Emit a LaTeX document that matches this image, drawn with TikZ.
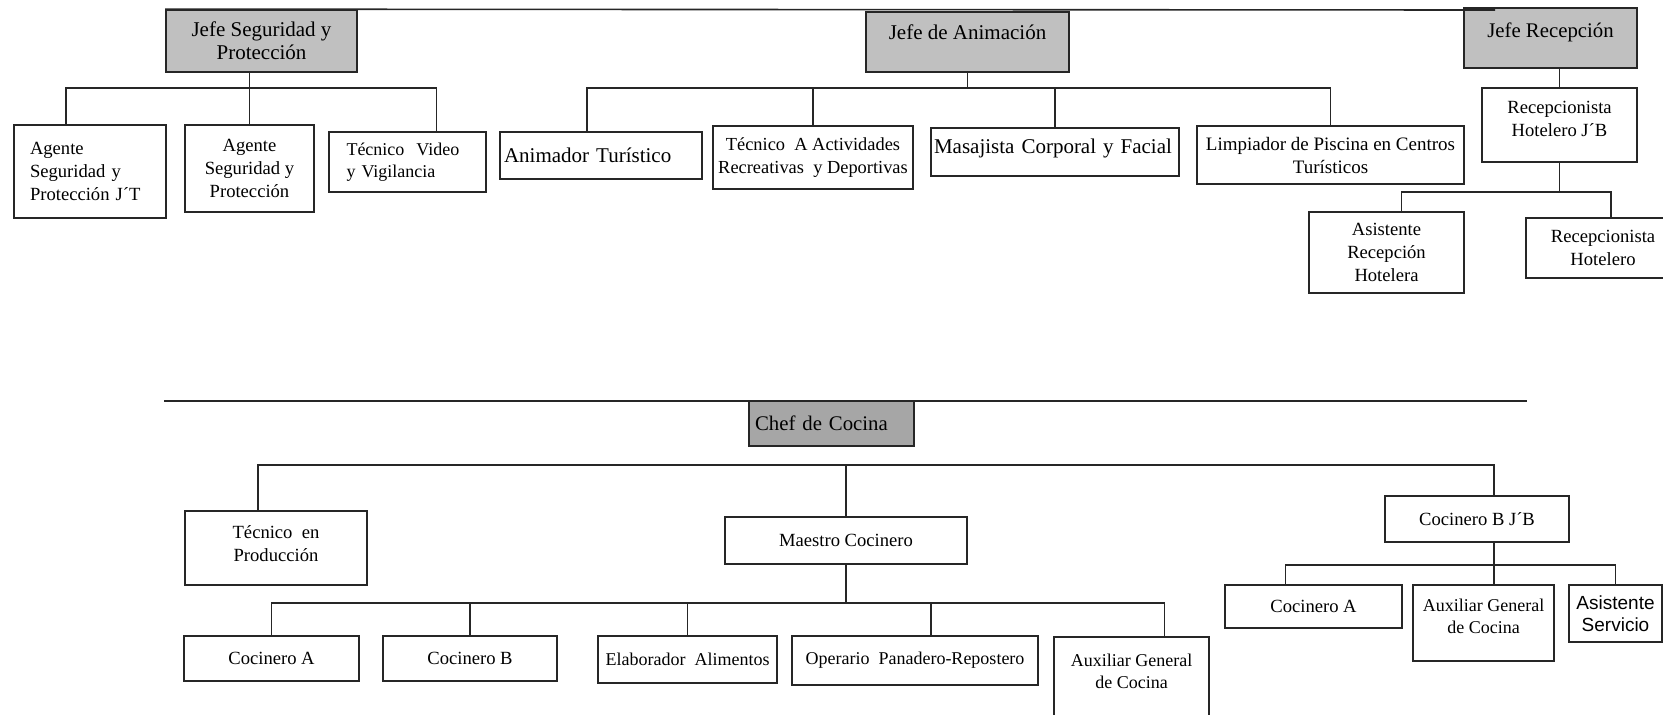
\documentclass[tikz,border=0pt]{standalone}
\usepackage{fontspec}
\setmainfont{Liberation Serif}
\newfontfamily\sansf{Liberation Sans}
\usetikzlibrary{calc}
\definecolor{hdgray}{HTML}{C0C0C0}
\definecolor{chefgray}{HTML}{A6A6A6}
\definecolor{ink}{HTML}{262626}
\newcommand{\mylift}[1]{\rule[-#1]{0pt}{#1}}
\tikzset{
  box/.style={draw=ink, line width=0.85pt, fill=white, inner sep=0pt, align=center,
              font=\fontsize{9.3}{11.5}\selectfont},
  hd/.style={box, fill=hdgray, font=\fontsize{10.5}{11.5}\selectfont},
  sz/.style 2 args={minimum width=#1*0.5pt, minimum height=#2*0.5pt},
  conn/.style={draw=ink, line width=0.8pt},
  big/.style={font=\fontsize{10.5}{11.5}\selectfont},
  small/.style={font=\fontsize{9}{11}\selectfont},
}
\begin{document}
\begin{tikzpicture}[x=0.5pt, y=-0.5pt]
\useasboundingbox (0,0) rectangle (1663,714);
\clip (0,0) rectangle (1663,714);

% ---------- top part ----------
\node[hd, sz={191}{62}] (jseg) at (261.5,41) {Jefe Seguridad y\\Protección};
\node[box, sz={152}{93}, align=left, text width=60pt] (ajt) at (90,171.5) {Agente\\Seguridad y\\Protección J´T};
\node[box, sz={129}{87}] (ag) at (249.5,168.5) {Agente\\Seguridad y\\Protección};
\node[box, sz={157}{60}, align=left, text width=61pt, small] (tvid) at (407.5,162) {Técnico\ \ Video\\y Vigilancia};

\node[hd, sz={203}{60}] (janim) at (967.5,42) {Jefe de Animación\mylift{10pt}};
\node[box, sz={202}{47}, big, align=left, text width=97pt] (anim) at (601,155.5) {Animador Turístico};
\node[box, sz={200}{63}, font=\fontsize{9.2}{11.5}\selectfont] (tecA) at (813,157.5) {Técnico\ \ A Actividades\\Recreativas\ \ y Deportivas};
\node[box, sz={248}{48}, big, align=left, text width=121pt] (masa) at (1055,152) {Masajista Corporal y Facial\mylift{6pt}};
\node[box, sz={267}{58}, font=\fontsize{9.5}{11.5}\selectfont] (limp) at (1330.5,155) {Limpiador de Piscina en Centros\\Turísticos};

\node[hd, sz={173}{60}, font=\fontsize{10.4}{11.5}\selectfont] (jrec) at (1550.5,38) {Jefe Recepción\mylift{8pt}};
\node[box, sz={155}{74}] (recjb) at (1559.5,125) {Recepcionista\\Hotelero J´B\mylift{6pt}};
\node[box, sz={155}{81}] (asrec) at (1386.5,252.5) {Asistente\\Recepción\\Hotelera};
\node[box, sz={154}{60}] (rechot) at (1603,248) {Recepcionista\\Hotelero};

\coordinate (topend) at (1495,10);
\draw[conn] (jseg.north west) -- (topend);

% security group
\coordinate (sb) at (0,88);
\coordinate (ajtc) at ($(ajt.north)+(-24,0)$);
\coordinate (tvidc) at ($(tvid.north)+(29,0)$);
\draw[conn] (jseg.south -| ag.north) -- (ag.north);
\draw[conn] (ajtc) -- (ajtc |- sb) -- (tvidc |- sb) -- (tvidc);

% animation group
\coordinate (ab) at (0,88);
\coordinate (animc) at ($(anim.north)+(-14,0)$);
\draw[conn] (janim.south) -- (janim.south |- ab);
\draw[conn] (animc) -- (animc |- ab) -- (limp.north |- ab) -- (limp.north);
\draw[conn] (tecA.north) -- (tecA.north |- ab);
\draw[conn] (masa.north) -- (masa.north |- ab);

% reception group
\coordinate (rb) at (0,192);
\coordinate (asrecc) at ($(asrec.north)+(15,0)$);
\coordinate (rechotc) at ($(rechot.north)+(8,0)$);
\draw[conn] (recjb.north |- jrec.south) -- (recjb.north);
\draw[conn] (recjb.south) -- (recjb.south |- rb);
\draw[conn] (asrecc) -- (asrecc |- rb) -- (rechotc |- rb) -- (rechotc);

% ---------- bottom part ----------
\coordinate (bl) at (164,401);
\coordinate (br) at (1527,401);
\draw[conn] (bl) -- (br);

\node[hd, fill=chefgray, sz={165}{45}, font=\fontsize{10.4}{11.5}\selectfont, align=left, text width=76.5pt] (chef) at (831.5,423.5) {Chef de Cocina};
\node[box, sz={182}{74}] (tprod) at (276,548) {Técnico\ \ en\\Producción\mylift{4pt}};
\node[box, sz={242}{47}] (maestro) at (846,540.5) {Maestro Cocinero};
\node[box, sz={184}{46}] (cocbjb) at (1477,519) {Cocinero B J´B};

\node[box, sz={175}{45}] (cocA) at (271.5,658.5) {Cocinero A};
\node[box, sz={174}{45}] (cocB) at (470,658.5) {Cocinero B};
\node[box, sz={179}{47}, small] (elab) at (687.5,659.5) {Elaborador\ \ Alimentos};
\node[box, sz={246}{49}, small] (oper) at (915,660.5) {Operario\ \ Panadero-Repostero};
\node[box, sz={155}{87}, small] (auxg) at (1131.5,680.5) {Auxiliar General\\de Cocina\mylift{9.5pt}};

\node[box, sz={177}{43}] (cocA2) at (1313.5,606.5) {Cocinero A};
\node[box, sz={141}{76}, small] (auxg2) at (1483.5,623) {Auxiliar General\\de Cocina\mylift{7pt}};
\node[box, sz={93}{57}, font=\sansf\fontsize{9.5}{11}\selectfont] (asserv) at (1615.5,613.5) {Asistente\\Servicio};

% chef bus
\coordinate (cb) at (0,465);
\coordinate (tprodc) at ($(tprod.north)+(-18,0)$);
\coordinate (cocbjbc) at ($(cocbjb.north)+(17,0)$);
\draw[conn] (tprodc) -- (tprodc |- cb) -- (cocbjbc |- cb) -- (cocbjbc);
\draw[conn] (maestro.north) -- (maestro.north |- cb);

% maestro bus
\coordinate (mb) at (0,603);
\coordinate (operc) at ($(oper.north)+(16,0)$);
\coordinate (auxgc) at ($(auxg.north)+(33,0)$);
\draw[conn] (maestro.south) -- (maestro.south |- mb);
\draw[conn] (cocA.north) -- (cocA.north |- mb) -- (auxgc |- mb) -- (auxgc);
\draw[conn] (cocB.north) -- (cocB.north |- mb);
\draw[conn] (elab.north) -- (elab.north |- mb);
\draw[conn] (operc) -- (operc |- mb);

% cocinero B J'B bus
\coordinate (kb) at (0,565);
\coordinate (cbjbs) at ($(cocbjb.south)+(17,0)$);
\coordinate (cocA2c) at ($(cocA2.north)+(-28,0)$);
\draw[conn] (cbjbs) -- (cbjbs |- auxg2.north);
\draw[conn] (cocA2c) -- (cocA2c |- kb) -- (asserv.north |- kb) -- (asserv.north);
\end{tikzpicture}
\end{document}
